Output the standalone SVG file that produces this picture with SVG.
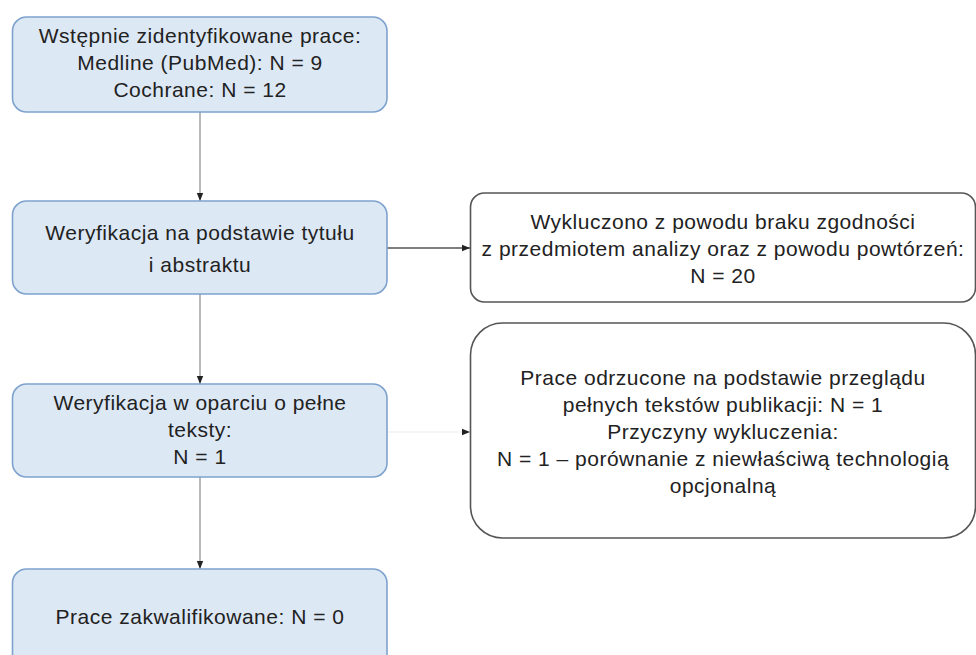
<svg xmlns="http://www.w3.org/2000/svg" width="976" height="655" viewBox="0 0 976 655">
<defs>
<style>
.lb{fill:#dde8f5;stroke:#7ea2cd;stroke-width:1.6}
.rb{fill:#ffffff;stroke:#555555;stroke-width:1.6}
text{font-family:"Liberation Sans",Arial,sans-serif;font-size:21px;letter-spacing:0.5px;fill:#222222;text-anchor:middle}
.c1{stroke:#a8a8a8;stroke-width:1.6;fill:none}
.c2{stroke:#555555;stroke-width:1.6;fill:none}
.c3{stroke:#ececec;stroke-width:1.2;fill:none}
</style>
<marker id="ah" viewBox="0 0 10 10" refX="10" refY="5" markerWidth="8" markerHeight="8" markerUnits="userSpaceOnUse" orient="auto">
<path d="M0,1 L10,5 L0,9 z" fill="#222222"/>
</marker>
</defs>
<rect width="976" height="655" fill="#ffffff"/>
<g id="connectors">
<line class="c1" x1="200" y1="112" x2="200" y2="201" marker-end="url(#ah)"/>
<line class="c1" x1="200" y1="294" x2="200" y2="384" marker-end="url(#ah)"/>
<line class="c1" x1="200" y1="477" x2="200" y2="569" marker-end="url(#ah)"/>
<line class="c2" x1="387" y1="248" x2="470" y2="248" marker-end="url(#ah)"/>
<line class="c3" x1="387" y1="432" x2="470" y2="432" marker-end="url(#ah)"/>
</g>
<g id="n1">
<rect class="lb" x="12.5" y="17" width="374.5" height="95" rx="14"/>
<text x="200" y="43">Wstępnie zidentyfikowane prace:</text>
<text x="200" y="70">Medline (PubMed): N = 9</text>
<text x="200" y="97">Cochrane: N = 12</text>
</g>
<g id="n2">
<rect class="lb" x="12.5" y="201" width="374.5" height="93" rx="14"/>
<text x="200" y="240">Weryfikacja na podstawie tytułu</text>
<text x="200" y="272">i abstraktu</text>
</g>
<g id="n3">
<rect class="lb" x="12.5" y="384" width="374.5" height="93" rx="14"/>
<text x="200" y="410">Weryfikacja w oparciu o pełne</text>
<text x="200" y="437">teksty:</text>
<text x="200" y="464">N = 1</text>
</g>
<g id="n4">
<rect class="lb" x="12.5" y="569" width="374.5" height="100" rx="14"/>
<text x="200" y="624">Prace zakwalifikowane: N = 0</text>
</g>
<g id="r1">
<rect class="rb" x="470.5" y="193" width="505" height="109" rx="14"/>
<text x="723" y="229">Wykluczono z powodu braku zgodności</text>
<text x="723" y="256">z przedmiotem analizy oraz z powodu powtórzeń:</text>
<text x="723" y="283">N = 20</text>
</g>
<g id="r2">
<rect class="rb" x="470.5" y="323" width="505" height="215" rx="32"/>
<text x="723" y="385">Prace odrzucone na podstawie przeglądu</text>
<text x="723" y="412">pełnych tekstów publikacji: N = 1</text>
<text x="723" y="439">Przyczyny wykluczenia:</text>
<text x="723" y="466">N = 1 – porównanie z niewłaściwą technologią</text>
<text x="723" y="493">opcjonalną</text>
</g>
</svg>
